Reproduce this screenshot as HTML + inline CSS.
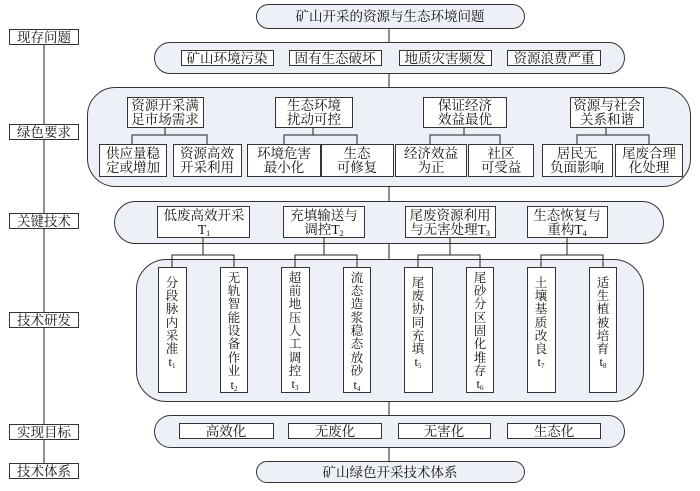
<!DOCTYPE html>
<html><head><meta charset="utf-8"><style>
html,body{margin:0;padding:0;background:#fff;}
svg{display:block;}
text{font-family:"Liberation Serif","Noto Serif CJK SC",serif;font-size:13.5px;fill:#111;}
.p{fill:#eef0f7;stroke:#333;stroke-width:1;}
.b{fill:#fff;stroke:#333;stroke-width:1;}
.l{stroke:#222;stroke-width:1;fill:none;}
.v text{font-size:12.5px;}
</style></head><body>
<svg width="700" height="491" viewBox="0 0 700 491" xmlns="http://www.w3.org/2000/svg">
<line class="l" x1="44" y1="37" x2="44" y2="470"/>
<g text-anchor="middle">
<rect class="b" x="9.5" y="29.5" width="69" height="15"/><text x="44" y="42">现存问题</text>
<rect class="b" x="9.5" y="124.5" width="69" height="15"/><text x="44" y="137">绿色要求</text>
<rect class="b" x="9.5" y="213.5" width="69" height="15"/><text x="44" y="226">关键技术</text>
<rect class="b" x="9.5" y="312.5" width="69" height="15"/><text x="44" y="325">技术研发</text>
<rect class="b" x="9.5" y="424.5" width="69" height="15"/><text x="44" y="437">实现目标</text>
<rect class="b" x="9.5" y="463.5" width="69" height="15"/><text x="44" y="476">技术体系</text>
</g>
<line class="l" x1="389" y1="28" x2="389" y2="461"/>
<rect class="p" x="256.5" y="4.5" width="268" height="24" rx="12"/>
<rect class="p" x="154.5" y="42.5" width="470" height="31" rx="15.5"/>
<rect class="p" x="87.5" y="87.5" width="603" height="99" rx="28"/>
<rect class="p" x="114.5" y="201.5" width="549" height="42" rx="21"/>
<rect class="p" x="136.5" y="259.5" width="507" height="142" rx="30"/>
<rect class="p" x="154.5" y="415.5" width="470" height="32" rx="16"/>
<rect class="p" x="256.5" y="461.5" width="268" height="21" rx="10.5"/>
<g text-anchor="middle">
<text x="390" y="21">矿山开采的资源与生态环境问题</text>
<text x="390" y="477">矿山绿色开采技术体系</text>
<rect class="b" x="181.5" y="50.5" width="92" height="15"/><text x="227" y="63">矿山环境污染</text>
<rect class="b" x="289.5" y="50.5" width="92" height="15"/><text x="335" y="63">固有生态破坏</text>
<rect class="b" x="399.5" y="50.5" width="92" height="15"/><text x="445" y="63">地质灾害频发</text>
<rect class="b" x="507.5" y="50.5" width="93" height="15"/><text x="554" y="63">资源浪费严重</text>
<rect class="b" x="179.5" y="423.5" width="94" height="15"/><text x="226" y="436">高效化</text>
<rect class="b" x="288.5" y="423.5" width="93" height="15"/><text x="335" y="436">无废化</text>
<rect class="b" x="398.5" y="423.5" width="92" height="15"/><text x="444" y="436">无害化</text>
<rect class="b" x="507.5" y="423.5" width="93" height="15"/><text x="554" y="436">生态化</text>
</g>
<g class="l">
<path d="M165 127V135M132 144V135H207V144"/>
<path d="M313 127V135M284 144V135H357V144"/>
<path d="M464 127V135M430 144V135H500V144"/>
<path d="M606 127V135M577 144V135H649V144"/>
</g>
<g text-anchor="middle">
<rect class="b" x="127.5" y="97.5" width="76" height="30"/><text x="165" y="110">资源开采满</text><text x="165" y="124">足市场需求</text>
<rect class="b" x="275.5" y="97.5" width="77" height="30"/><text x="314" y="110">生态环境</text><text x="314" y="124">扰动可控</text>
<rect class="b" x="423.5" y="97.5" width="83" height="30"/><text x="465" y="110">保证经济</text><text x="465" y="124">效益最优</text>
<rect class="b" x="570.5" y="97.5" width="73" height="30"/><text x="607" y="110">资源与社会</text><text x="607" y="124">关系和谐</text>
<rect class="b" x="99.5" y="144.5" width="67" height="32"/><text x="133" y="158">供应量稳</text><text x="133" y="172">定或增加</text>
<rect class="b" x="173.5" y="144.5" width="68" height="32"/><text x="207" y="158">资源高效</text><text x="207" y="172">开采利用</text>
<rect class="b" x="247.5" y="144.5" width="73" height="32"/><text x="284" y="158">环境危害</text><text x="284" y="172">最小化</text>
<rect class="b" x="321.5" y="144.5" width="72" height="32"/><text x="357" y="158">生态</text><text x="357" y="172">可修复</text>
<rect class="b" x="395.5" y="144.5" width="71" height="32"/><text x="431" y="158">经济效益</text><text x="431" y="172">为正</text>
<rect class="b" x="468.5" y="144.5" width="65" height="32"/><text x="501" y="158">社区</text><text x="501" y="172">可受益</text>
<rect class="b" x="542.5" y="144.5" width="70" height="32"/><text x="577" y="158">居民无</text><text x="577" y="172">负面影响</text>
<rect class="b" x="615.5" y="144.5" width="67" height="32"/><text x="649" y="158">尾废合理</text><text x="649" y="172">化处理</text>
</g>
<g class="l">
<path d="M203 237V255M172 267V255H234V267"/>
<path d="M324 237V255M295 267V255H357V267"/>
<path d="M450 237V255M418 267V255H480V267"/>
<path d="M567 237V255M541 267V255H603V267"/>
</g>
<g text-anchor="middle">
<rect class="b" x="157.5" y="206.5" width="92" height="31"/><text x="204" y="220">低废高效开采</text><text x="204" y="234">T<tspan font-size="8" dy="2">1</tspan></text>
<rect class="b" x="283.5" y="206.5" width="81" height="31"/><text x="324" y="220">充填输送与</text><text x="324" y="234">调控T<tspan font-size="8" dy="2">2</tspan></text>
<rect class="b" x="405.5" y="206.5" width="90" height="31"/><text x="450" y="220">尾废资源利用</text><text x="450" y="234">与无害处理T<tspan font-size="8" dy="2">3</tspan></text>
<rect class="b" x="527.5" y="206.5" width="80" height="31"/><text x="567" y="220">生态恢复与</text><text x="567" y="234">重构T<tspan font-size="8" dy="2">4</tspan></text>
</g>
<g text-anchor="middle" class="v">
<rect class="b" x="158.5" y="267.5" width="28" height="125"/>
<text x="172" y="287">分</text><text x="172" y="300">段</text><text x="172" y="313">脉</text><text x="172" y="327">内</text><text x="172" y="340">采</text><text x="172" y="353">准</text><text x="172" y="366">t<tspan font-size="7" dy="2">1</tspan></text>
<rect class="b" x="220.5" y="267.5" width="27" height="125"/>
<text x="234" y="282">无</text><text x="234" y="295">轨</text><text x="234" y="308">智</text><text x="234" y="322">能</text><text x="234" y="335">设</text><text x="234" y="348">备</text><text x="234" y="362">作</text><text x="234" y="375">业</text><text x="234" y="389">t<tspan font-size="7" dy="2">2</tspan></text>
<rect class="b" x="281.5" y="267.5" width="28" height="125"/>
<text x="295" y="282">超</text><text x="295" y="295">前</text><text x="295" y="308">地</text><text x="295" y="322">压</text><text x="295" y="335">人</text><text x="295" y="348">工</text><text x="295" y="362">调</text><text x="295" y="375">控</text><text x="295" y="388">t<tspan font-size="7" dy="2">3</tspan></text>
<rect class="b" x="343.5" y="267.5" width="27" height="125"/>
<text x="357" y="282">流</text><text x="357" y="295">态</text><text x="357" y="308">造</text><text x="357" y="322">浆</text><text x="357" y="335">稳</text><text x="357" y="348">态</text><text x="357" y="362">放</text><text x="357" y="375">砂</text><text x="357" y="389">t<tspan font-size="7" dy="2">4</tspan></text>
<rect class="b" x="404.5" y="267.5" width="28" height="125"/>
<text x="418" y="287">尾</text><text x="418" y="300">废</text><text x="418" y="313">协</text><text x="418" y="327">同</text><text x="418" y="340">充</text><text x="418" y="353">填</text><text x="418" y="366">t<tspan font-size="7" dy="2">5</tspan></text>
<rect class="b" x="466.5" y="267.5" width="27" height="125"/>
<text x="480" y="282">尾</text><text x="480" y="295">砂</text><text x="480" y="308">分</text><text x="480" y="322">区</text><text x="480" y="335">固</text><text x="480" y="348">化</text><text x="480" y="362">堆</text><text x="480" y="375">存</text><text x="480" y="388">t<tspan font-size="7" dy="2">6</tspan></text>
<rect class="b" x="527.5" y="267.5" width="28" height="125"/>
<text x="541" y="287">土</text><text x="541" y="300">壤</text><text x="541" y="313">基</text><text x="541" y="327">质</text><text x="541" y="340">改</text><text x="541" y="353">良</text><text x="541" y="366">t<tspan font-size="7" dy="2">7</tspan></text>
<rect class="b" x="589.5" y="267.5" width="27" height="125"/>
<text x="603" y="287">适</text><text x="603" y="300">生</text><text x="603" y="313">植</text><text x="603" y="327">被</text><text x="603" y="340">培</text><text x="603" y="353">育</text><text x="603" y="366">t<tspan font-size="7" dy="2">8</tspan></text>
</g>
</svg>
</body></html>
